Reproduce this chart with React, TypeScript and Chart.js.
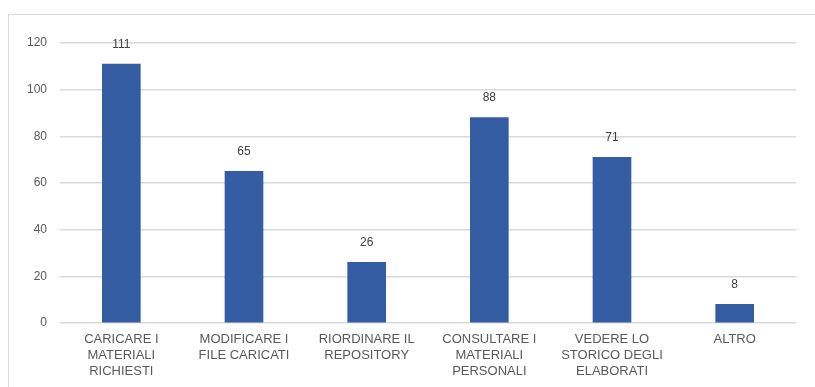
import React, { useEffect, useRef } from "react";
import { Chart, registerables } from "chart.js";

Chart.register(...registerables);

const categories: string[][] = [
  ["CARICARE I", "MATERIALI", "RICHIESTI"],
  ["MODIFICARE I", "FILE CARICATI"],
  ["RIORDINARE IL", "REPOSITORY"],
  ["CONSULTARE I", "MATERIALI", "PERSONALI"],
  ["VEDERE LO", "STORICO DEGLI", "ELABORATI"],
  ["ALTRO"],
];
const values: number[] = [111, 65, 26, 88, 71, 8];
const yMin = 0;
const yMax = 120;
const yStep = 20;

const FONT = '"Liberation Sans", Arial, sans-serif';

const valueLabels = {
  id: "valueLabels",
  afterDatasetsDraw(chart: any) {
    const ctx = chart.ctx;
    const meta = chart.getDatasetMeta(0);
    ctx.save();
    ctx.font = `12px ${FONT}`;
    ctx.fillStyle = "#404040";
    ctx.textAlign = "center";
    ctx.textBaseline = "middle";
    meta.data.forEach((bar: any, i: number) => {
      ctx.fillText(String(values[i]), bar.x, bar.y - 19.5);
    });
    ctx.restore();
  },
};

export default function App() {
  const ref = useRef<HTMLCanvasElement | null>(null);
  useEffect(() => {
    if (!ref.current) return;
    const chart = new Chart(ref.current, {
      type: "bar",
      data: {
        labels: categories,
        datasets: [
          {
            data: values,
            backgroundColor: "#355DA3",
            barThickness: 38,
          },
        ],
      },
      options: {
        animation: false,
        responsive: false,
        devicePixelRatio: 1,
        layout: { padding: { top: 28, right: 20, left: 0, bottom: 0 } },
        plugins: { legend: { display: false }, tooltip: { enabled: false } },
        scales: {
          x: {
            grid: { display: false, drawTicks: false },
            border: { display: false },
            ticks: {
              color: "#595959",
              font: { family: FONT, size: 13, lineHeight: 1.2 },
              padding: 9,
              maxRotation: 0,
              autoSkip: false,
            },
            afterFit: (s: any) => {
              s.height = 67;
            },
          },
          y: {
            min: yMin,
            max: yMax,
            grid: { color: "#D9D9D9", lineWidth: 1.5, drawTicks: false },
            border: { display: false },
            ticks: {
              stepSize: yStep,
              color: "#595959",
              font: { family: FONT, size: 12 },
              padding: 13,
            },
            afterFit: (s: any) => {
              s.width = 51;
            },
          },
        },
      },
      plugins: [valueLabels],
    });
    return () => chart.destroy();
  }, []);
  return (
    <div
      style={{
        position: "fixed",
        left: 8,
        top: 14,
        width: 809,
        height: 377,
        border: "1px solid #D9D9D9",
        boxSizing: "border-box",
        background: "#fff",
      }}
    >
      <canvas ref={ref} width={807} height={375} style={{ display: "block" }} />
    </div>
  );
}
